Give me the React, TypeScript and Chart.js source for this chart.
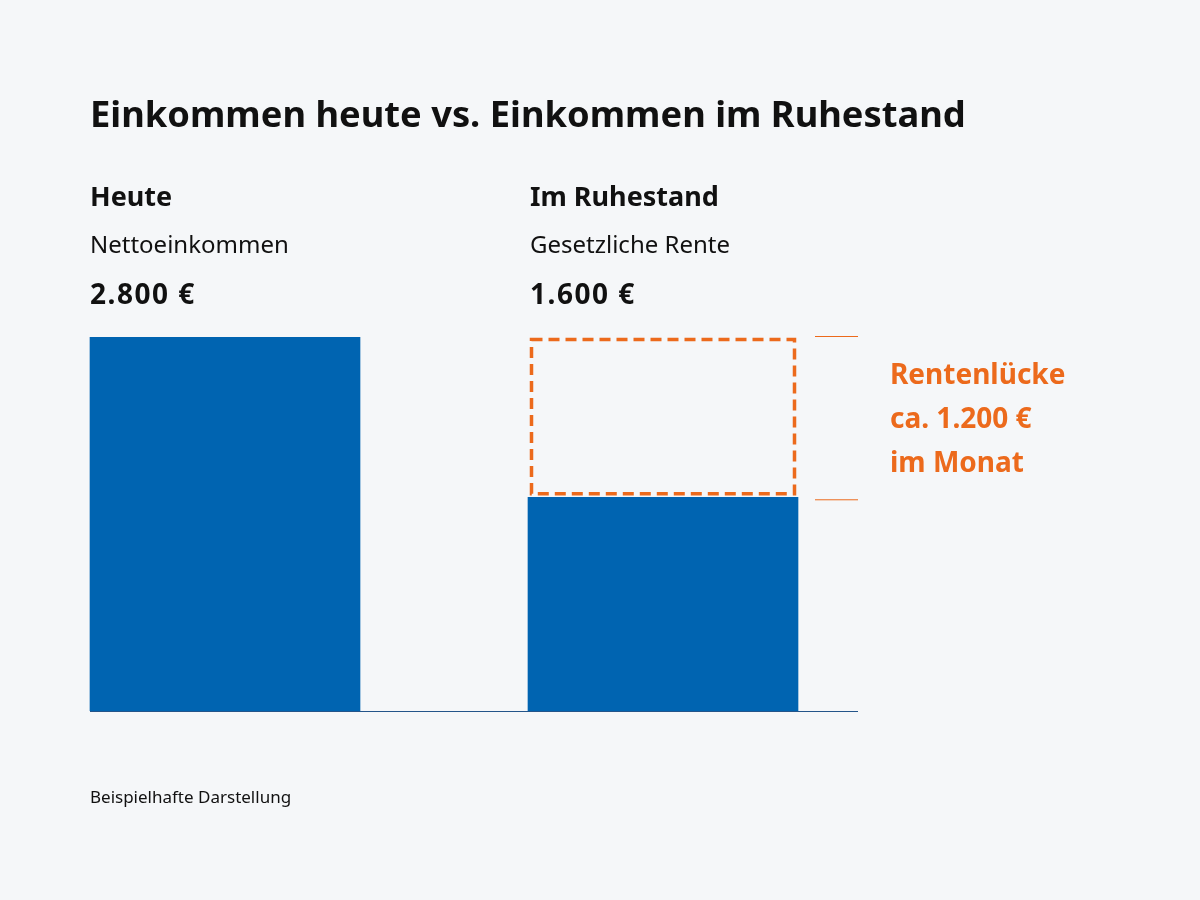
import { useEffect, useRef } from 'react';
import { Chart, registerables } from 'chart.js';

Chart.register(...registerables);

const categories = ['Heute', 'Im Ruhestand'];
const subLabels = ['Nettoeinkommen', 'Gesetzliche Rente'];
const amountLabels = ['2.800 €', '1.600 €'];
const incomeValues = [2800, 1600];
const gapValues = [null, 1200];
const gapLines = ['Rentenlücke', 'ca. 1.200 €', 'im Monat'];

const BLUE = '#0064b1';
const ORANGE = '#ec6a1c';
const INK = '#111111';
const BG = '#f5f7f9';
const FONT = '"Noto Sans", sans-serif';

// dashed gap box, bracket ticks, baseline and all the labels
const decorPlugin = {
  id: 'decor',
  afterDatasetsDraw(chart: any) {
    const { ctx, scales } = chart;
    const income = chart.getDatasetMeta(0).data;
    const gap = chart.getDatasetMeta(1).data;
    const yZero = scales.y.getPixelForValue(0);

    ctx.save();

    // baseline
    const first = income[0];
    const lineLeft = first.x - first.width / 2;
    const lineRight = gap[1].x + gap[1].width / 2 + 60;
    ctx.strokeStyle = '#24558a';
    ctx.lineWidth = 1;
    ctx.beginPath();
    ctx.moveTo(lineLeft, yZero + 0.5);
    ctx.lineTo(lineRight, yZero + 0.5);
    ctx.stroke();

    // dashed box over the gap
    const g = gap[1];
    const gl = g.x - g.width / 2;
    const gr = g.x + g.width / 2;
    const gt = Math.min(g.y, g.base);
    const gb = Math.max(g.y, g.base);
    ctx.strokeStyle = ORANGE;
    ctx.lineWidth = 3.5;
    ctx.setLineDash([11, 6]);
    ctx.strokeRect(gl + 3.5, gt + 2.5, g.width - 7, gb - gt - 6);
    ctx.setLineDash([]);

    // bracket ticks
    ctx.lineWidth = 1;
    ctx.beginPath();
    ctx.moveTo(gr + 17, gt - 0.5);
    ctx.lineTo(gr + 60, gt - 0.5);
    ctx.moveTo(gr + 17, gb + 2.5);
    ctx.lineTo(gr + 60, gb + 2.5);
    ctx.stroke();

    // gap text
    ctx.fillStyle = ORANGE;
    ctx.font = `bold 28px ${FONT}`;
    ctx.textBaseline = 'middle';
    ctx.textAlign = 'left';
    gapLines.forEach((t, i) => ctx.fillText(t, gr + 92, gt + 39 + i * 44));

    // column headings
    income.forEach((bar: any, i: number) => {
      const x = bar.x - bar.width / 2 + (i === 0 ? 0 : 2);
      ctx.fillStyle = INK;
      ctx.letterSpacing = '0px';
      ctx.font = `bold 27px ${FONT}`;
      ctx.fillText(categories[i], x, 198);
      ctx.font = `24px ${FONT}`;
      ctx.fillText(subLabels[i], x, 246);
      ctx.font = `bold 28px ${FONT}`;
      ctx.letterSpacing = '1.5px';
      ctx.fillText(amountLabels[i], x, 296);
    });

    // title and footer
    ctx.letterSpacing = '0px';
    ctx.font = `bold 36.3px ${FONT}`;
    ctx.fillText('Einkommen heute vs. Einkommen im Ruhestand', lineLeft, 117);
    ctx.font = `17px ${FONT}`;
    ctx.fillText('Beispielhafte Darstellung', lineLeft, 798);

    ctx.restore();
  },
};

export default function App() {
  const chartRef = useRef<HTMLCanvasElement>(null);
  const chartInstance = useRef<Chart | null>(null);

  useEffect(() => {
    if (!chartRef.current) return;
    if (chartInstance.current) chartInstance.current.destroy();

    const ctx = chartRef.current.getContext('2d');
    if (!ctx) return;

    chartInstance.current = new Chart(ctx, {
      type: 'bar',
      data: {
        labels: categories,
        datasets: [
          {
            label: 'Einkommen',
            data: incomeValues,
            backgroundColor: BLUE,
            barThickness: 270,
            stack: 's',
          },
          {
            label: 'Rentenlücke',
            data: gapValues,
            backgroundColor: 'rgba(0,0,0,0)',
            barThickness: 270,
            stack: 's',
          },
        ],
      },
      options: {
        responsive: false,
        maintainAspectRatio: false,
        animation: false,
        layout: { padding: { left: 6, right: 318, top: 337, bottom: 189 } },
        scales: {
          x: { display: false, stacked: true },
          y: { display: false, stacked: true, min: 0, max: 2800 },
        },
        plugins: {
          legend: { display: false },
          tooltip: { enabled: false },
        },
      },
      plugins: [decorPlugin],
    });

    return () => {
      if (chartInstance.current) {
        chartInstance.current.destroy();
        chartInstance.current = null;
      }
    };
  }, []);

  return (
    <div style={{ position: 'fixed', left: 0, top: 0, width: 1200, height: 900, background: BG }}>
      <canvas ref={chartRef} width={1200} height={900} style={{ width: 1200, height: 900 }} />
    </div>
  );
}
